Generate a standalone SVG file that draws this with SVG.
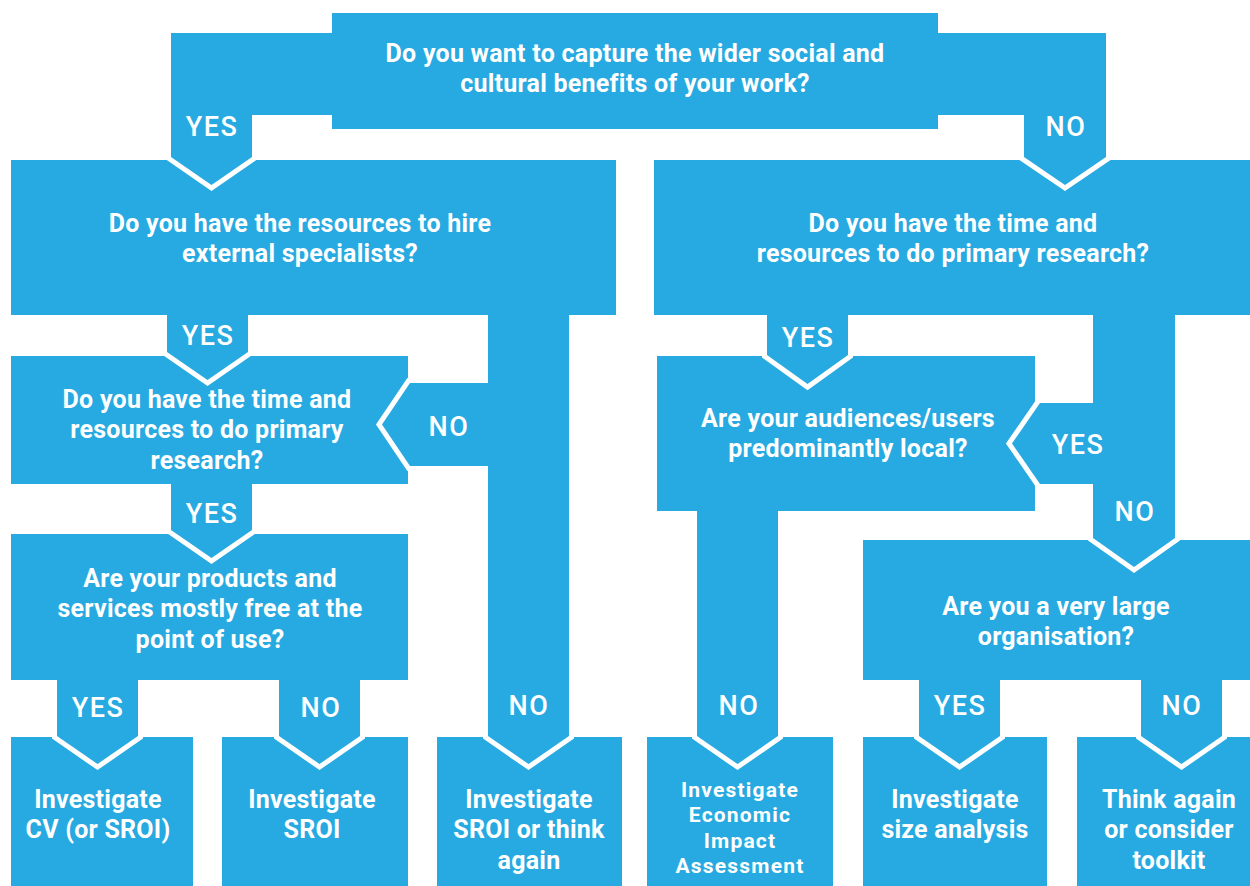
<svg xmlns="http://www.w3.org/2000/svg" width="1250" height="886" viewBox="0 0 1250 886">
<style>
.box{fill:#27aae1}
.arr{fill:#27aae1}
.out{fill:none;stroke:#fff;stroke-width:10;stroke-linejoin:miter;stroke-miterlimit:10}
.t{font-family:Roboto,"Liberation Sans",sans-serif;font-weight:700;font-size:25px;letter-spacing:0.25px;fill:#fff;text-anchor:middle}
.e{font-family:Roboto,"Liberation Sans",sans-serif;font-weight:700;font-size:21px;letter-spacing:1.2px;fill:#fff;text-anchor:middle}
.l{font-family:Roboto,"Liberation Sans",sans-serif;font-weight:500;font-size:27px;letter-spacing:1.5px;fill:#fff;text-anchor:middle}
</style>
<rect width="1250" height="886" fill="#fff"/>
<g id="q-top">
<path class="box" d="M332,13 H938 V33 H1106 V115 H938 V129 H332 V115 H171 V33 H332 Z"/>
<text class="t" x="635" y="62">Do you want to capture the wider social and</text>
<text class="t" x="635" y="92">cultural benefits of your work?</text>
</g>
<g id="q-specialists">
<rect class="box" x="11" y="160" width="605" height="155"/>
<text class="t" x="300" y="232">Do you have the resources to hire</text>
<text class="t" x="300" y="262">external specialists?</text>
</g>
<g id="q-primary-right">
<rect class="box" x="654" y="160" width="596" height="155"/>
<text class="t" x="953" y="232">Do you have the time and</text>
<text class="t" x="953" y="262">resources to do primary research?</text>
</g>
<g id="q-primary-left">
<rect class="box" x="11" y="356" width="397" height="128"/>
<text class="t" x="207" y="408">Do you have the time and</text>
<text class="t" x="207" y="438">resources to do primary</text>
<text class="t" x="207" y="469">research?</text>
</g>
<g id="q-free">
<rect class="box" x="11" y="534" width="397" height="146"/>
<text class="t" x="210" y="587">Are your products and</text>
<text class="t" x="210" y="617">services mostly free at the</text>
<text class="t" x="210" y="648">point of use?</text>
</g>
<g id="q-local">
<rect class="box" x="657" y="356" width="378" height="155"/>
<text class="t" x="848" y="427">Are your audiences/users</text>
<text class="t" x="848" y="457">predominantly local?</text>
</g>
<g id="q-large">
<rect class="box" x="863" y="540" width="387" height="140"/>
<text class="t" x="1056" y="615">Are you a very large</text>
<text class="t" x="1056" y="645">organisation?</text>
</g>
<g id="r-cv">
<rect class="box" x="11" y="737" width="182" height="149"/>
<text class="t" x="98" y="808">Investigate</text>
<text class="t" x="98" y="838">CV (or SROI)</text>
</g>
<g id="r-sroi">
<rect class="box" x="222" y="737" width="186" height="149"/>
<text class="t" x="312" y="808">Investigate</text>
<text class="t" x="312" y="838">SROI</text>
</g>
<g id="r-sroi-think">
<rect class="box" x="437" y="737" width="185" height="149"/>
<text class="t" x="529" y="808">Investigate</text>
<text class="t" x="529" y="838">SROI or think</text>
<text class="t" x="529" y="869">again</text>
</g>
<g id="r-eia">
<rect class="box" x="647" y="737" width="186" height="149"/>
<text class="e" x="740" y="797">Investigate</text>
<text class="e" x="740" y="822">Economic</text>
<text class="e" x="740" y="848">Impact</text>
<text class="e" x="740" y="873">Assessment</text>
</g>
<g id="r-size">
<rect class="box" x="863" y="737" width="184" height="149"/>
<text class="t" x="955" y="808">Investigate</text>
<text class="t" x="955" y="838">size analysis</text>
</g>
<g id="r-think">
<rect class="box" x="1077" y="737" width="173" height="149"/>
<text class="t" x="1169" y="808">Think again</text>
<text class="t" x="1169" y="838">or consider</text>
<text class="t" x="1169" y="869">toolkit</text>
</g>
<g id="connectors">
<polyline class="out" points="171,148 171,157 211.5,185 252,157 252,148"/>
<polyline class="out" points="1024,148 1024,157 1065,185 1106,157 1106,148"/>
<polyline class="out" points="167,343 167,352 207.5,380 248,352 248,343"/>
<polyline class="out" points="171,521 171,530 211.5,558 252,530 252,521"/>
<polyline class="out" points="57,727 57,736 97.5,764 138,736 138,727"/>
<polyline class="out" points="279,727 279,736 319.5,764 360,736 360,727"/>
<polyline class="out" points="488,727 488,736 528.5,764 569,736 569,727"/>
<polyline class="out" points="419,383 410,383 382,424.5 410,466 419,466"/>
<polyline class="out" points="767,346 767,355 807.5,384 848,355 848,346"/>
<polyline class="out" points="1093,529 1093,538 1134,567 1175,538 1175,529"/>
<polyline class="out" points="1049,403 1040,403 1012,443.5 1040,484 1049,484"/>
<polyline class="out" points="697,727 697,736 737.5,764 778,736 778,727"/>
<polyline class="out" points="919,727 919,736 959.5,764 1000,736 1000,727"/>
<polyline class="out" points="1141,727 1141,736 1181.5,764 1222,736 1222,727"/>
<polygon class="arr" points="171,110 252,110 252,157 211.5,185 171,157"/>
<polygon class="arr" points="1024,110 1106,110 1106,157 1065,185 1024,157"/>
<polygon class="arr" points="167,310 248,310 248,352 207.5,380 167,352"/>
<polygon class="arr" points="171,480 252,480 252,530 211.5,558 171,530"/>
<polygon class="arr" points="57,676 138,676 138,736 97.5,764 57,736"/>
<polygon class="arr" points="279,676 360,676 360,736 319.5,764 279,736"/>
<polygon class="arr" points="488,310 569,310 569,736 528.5,764 488,736"/>
<polygon class="arr" points="489,383 489,466 410,466 382,424.5 410,383"/>
<polygon class="arr" points="767,310 848,310 848,355 807.5,384 767,355"/>
<polygon class="arr" points="1093,310 1175,310 1175,538 1134,567 1093,538"/>
<polygon class="arr" points="1094,403 1094,484 1040,484 1012,443.5 1040,403"/>
<polygon class="arr" points="697,506 778,506 778,736 737.5,764 697,736"/>
<polygon class="arr" points="919,676 1000,676 1000,736 959.5,764 919,736"/>
<polygon class="arr" points="1141,676 1222,676 1222,736 1181.5,764 1141,736"/>
<text class="l" x="212" y="136">YES</text>
<text class="l" x="1066" y="136">NO</text>
<text class="l" x="208" y="345">YES</text>
<text class="l" x="449" y="436">NO</text>
<text class="l" x="212" y="523">YES</text>
<text class="l" x="98" y="717">YES</text>
<text class="l" x="321" y="717">NO</text>
<text class="l" x="529" y="715">NO</text>
<text class="l" x="808" y="347">YES</text>
<text class="l" x="1078" y="454">YES</text>
<text class="l" x="1135" y="521">NO</text>
<text class="l" x="739" y="715">NO</text>
<text class="l" x="960" y="715">YES</text>
<text class="l" x="1182" y="715">NO</text>
</g>
</svg>
